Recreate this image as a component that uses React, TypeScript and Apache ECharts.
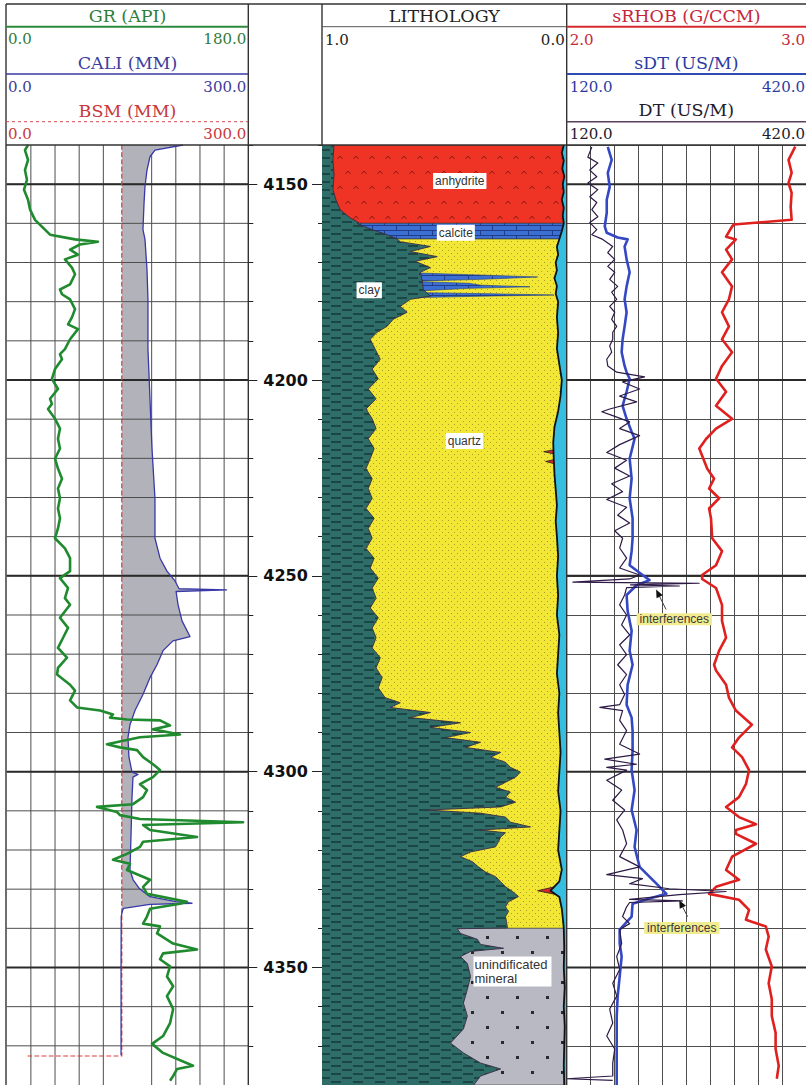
import React, { useEffect, useRef } from "react";
import * as echarts from "echarts";

// ---------- depth frame ----------
const TOP_DEPTH = 4140;
const BASE_DEPTH = 4380;
const DEPTH_STEP = 10;
const MAJOR_DEPTHS = [4150, 4200, 4250, 4300, 4350];

// ---------- header scales ----------
const GR_SCALE = [0, 180];
const CALI_SCALE = [0, 300];
const BSM_SCALE = [0, 300];
const LITH_SCALE = [1, 0];
const RHOB_SCALE = [2, 3];
const SDT_SCALE = [120, 420];
const DT_SCALE = [120, 420];
const GR_GRID = [18, 36, 54, 72, 108, 126, 144, 162];

// ---------- curves: [depth (m), value] ----------
const GR_LOG = [
  [4140.0, 15.9], [4141.3, 13.6], [4143.8, 15.9], [4146.4, 13.6], [4148.9, 15.1], [4151.4, 12.9], [4154.0, 15.9],
  [4156.5, 17.4], [4159.1, 21.1], [4161.6, 28.5], [4162.9, 32.3], [4164.1, 50.9], [4164.7, 68.0], [4165.4, 54.6],
  [4166.7, 47.2], [4168.0, 53.1], [4169.2, 43.4], [4171.3, 48.6], [4173.0, 50.9], [4175.6, 47.2], [4176.9, 39.7],
  [4178.1, 41.2], [4179.4, 47.2], [4181.9, 50.9], [4184.0, 48.6], [4185.8, 45.7], [4187.0, 53.1], [4189.6, 47.2],
  [4192.1, 43.4], [4193.4, 39.7], [4194.7, 41.2], [4197.2, 36.0], [4199.7, 33.7], [4202.3, 38.2], [4204.8, 32.3],
  [4206.1, 33.7], [4207.4, 30.8], [4209.9, 36.0], [4212.4, 39.7], [4215.0, 38.2], [4217.5, 39.7], [4220.1, 36.0],
  [4222.6, 38.2], [4225.2, 41.2], [4227.7, 38.2], [4230.2, 39.7], [4232.8, 38.2], [4235.3, 39.7], [4237.9, 38.2],
  [4240.4, 36.0], [4243.0, 43.4], [4245.5, 47.2], [4248.8, 47.2], [4250.6, 39.7], [4253.1, 45.7], [4255.7, 43.4],
  [4257.4, 47.2], [4260.7, 39.7], [4263.3, 45.7], [4265.8, 42.0], [4268.4, 38.2], [4270.9, 44.9], [4273.5, 38.2],
  [4275.2, 37.5], [4277.8, 47.2], [4279.3, 50.9], [4281.8, 47.2], [4283.6, 52.4], [4284.4, 69.5], [4285.4, 79.2],
  [4286.2, 77.0], [4286.7, 89.6], [4286.9, 114.2], [4288.2, 121.7], [4289.2, 109.0], [4290.5, 129.1], [4291.2, 99.3],
  [4293.0, 74.7], [4293.8, 84.4], [4294.5, 97.1], [4296.3, 101.6], [4298.1, 109.0], [4299.6, 114.2], [4301.4, 109.0],
  [4303.2, 99.3], [4304.7, 104.5], [4306.5, 101.6], [4308.3, 94.1], [4309.0, 67.3], [4310.3, 82.2], [4311.1, 84.4],
  [4312.1, 99.3], [4312.9, 176.1], [4313.6, 101.6], [4314.9, 106.8], [4316.7, 141.8], [4317.9, 101.6], [4319.2, 99.3],
  [4321.0, 89.6], [4322.5, 79.2], [4323.5, 91.9], [4325.1, 89.6], [4327.6, 106.8], [4329.4, 101.6], [4331.2, 104.5],
  [4333.2, 134.3], [4333.7, 129.1], [4335.0, 106.8], [4337.0, 104.5], [4338.8, 101.6], [4339.5, 114.2], [4341.3, 112.0],
  [4343.9, 124.0], [4345.4, 141.8], [4346.4, 116.5], [4347.9, 114.2], [4349.7, 121.7], [4352.3, 119.4], [4354.8, 124.0],
  [4357.3, 119.4], [4360.6, 124.0], [4364.2, 121.7], [4367.5, 116.5], [4369.5, 108.3], [4371.8, 116.5], [4375.1, 138.8],
  [4375.9, 127.0], [4377.7, 124.0], [4378.9, 121.7],
];

const CALI_LOG = [
  [4140.0, 218.9], [4141.3, 184.1], [4143.0, 177.9], [4146.4, 174.2], [4150.6, 171.7], [4155.0, 170.5], [4161.6, 169.2],
  [4164.1, 171.7], [4171.8, 174.2], [4179.4, 175.4], [4192.1, 175.4], [4204.8, 177.9], [4217.5, 180.4], [4230.2, 184.1],
  [4240.4, 184.1], [4245.5, 190.4], [4248.8, 199.0], [4251.3, 209.0], [4253.3, 214.0], [4253.6, 273.0], [4254.0, 210.3],
  [4257.4, 212.8], [4261.5, 217.7], [4265.5, 227.6], [4266.6, 206.5], [4269.1, 194.1], [4272.7, 186.6], [4276.0, 177.9],
  [4280.3, 169.2], [4284.4, 159.3], [4288.0, 153.1], [4291.3, 150.6], [4296.3, 151.8], [4300.1, 155.6], [4300.7, 163.0],
  [4301.4, 156.8], [4306.5, 155.6], [4316.7, 154.3], [4325.1, 153.1], [4327.6, 157.0], [4329.9, 165.0], [4331.9, 177.9],
  [4333.2, 210.0], [4333.6, 230.1], [4333.9, 177.9], [4334.9, 145.0], [4335.7, 143.5], [4337.0, 142.2], [4350.0, 142.0],
  [4372.4, 142.0],
];

const BSM_LOG = [[4140.0, 142.9], [4372.6, 142.9], [4372.6, 26.0]];

const RHOB_LOG = [
  [4140.4, 2.955], [4143.8, 2.927], [4147.1, 2.94], [4149.7, 2.927], [4152.2, 2.94], [4155.8, 2.936], [4159.1, 2.94],
  [4160.3, 2.699], [4160.8, 2.691], [4163.4, 2.666], [4164.1, 2.707], [4166.7, 2.666], [4169.2, 2.691], [4172.5, 2.649],
  [4176.1, 2.691], [4179.4, 2.678], [4182.7, 2.649], [4186.3, 2.678], [4189.6, 2.649], [4192.9, 2.691], [4196.4, 2.649],
  [4199.7, 2.624], [4203.0, 2.666], [4206.6, 2.624], [4209.9, 2.691], [4212.4, 2.624], [4215.0, 2.583], [4217.5, 2.554],
  [4222.6, 2.587], [4225.2, 2.616], [4227.7, 2.595], [4230.2, 2.637], [4232.8, 2.595], [4235.3, 2.603], [4240.4, 2.608],
  [4243.7, 2.649], [4247.3, 2.624], [4249.8, 2.566], [4250.8, 2.566], [4253.1, 2.624], [4257.4, 2.649], [4261.5, 2.649],
  [4265.8, 2.666], [4269.1, 2.637], [4272.7, 2.616], [4274.2, 2.624], [4277.8, 2.666], [4281.1, 2.678], [4284.4, 2.707],
  [4288.0, 2.774], [4291.3, 2.72], [4293.8, 2.691], [4296.3, 2.733], [4299.6, 2.762], [4303.2, 2.749], [4306.5, 2.72],
  [4309.0, 2.666], [4311.6, 2.72], [4313.4, 2.791], [4314.9, 2.707], [4315.9, 2.707], [4318.4, 2.791], [4321.7, 2.691],
  [4325.1, 2.666], [4327.6, 2.72], [4329.4, 2.624], [4331.2, 2.595], [4332.7, 2.72], [4335.3, 2.762], [4337.8, 2.749],
  [4339.5, 2.832], [4342.1, 2.844], [4345.4, 2.832], [4349.7, 2.857], [4354.0, 2.844], [4358.1, 2.857], [4362.4, 2.857],
  [4366.7, 2.873], [4370.8, 2.873], [4375.1, 2.886], [4378.4, 2.878],
];

const SDT_LOG = [
  [4140.5, 171.5], [4143.8, 176.4], [4147.1, 171.5], [4150.7, 173.9], [4154.0, 170.2], [4157.3, 170.2], [4160.8, 167.7],
  [4162.4, 170.2], [4163.6, 183.9], [4164.1, 196.4], [4165.9, 192.6], [4169.2, 195.1], [4172.5, 198.9], [4176.1, 195.1],
  [4179.4, 192.6], [4182.7, 195.1], [4186.3, 192.6], [4189.6, 190.1], [4192.9, 188.9], [4196.4, 192.6], [4198.0, 195.1],
  [4199.7, 198.9], [4203.0, 195.1], [4206.6, 190.1], [4209.9, 195.1], [4213.2, 201.4], [4215.0, 205.1], [4220.1, 198.9],
  [4225.2, 201.4], [4230.2, 198.9], [4235.3, 202.6], [4240.4, 202.6], [4243.7, 201.4], [4247.3, 198.9], [4249.8, 215.1],
  [4251.1, 223.8], [4252.4, 207.6], [4254.9, 195.1], [4259.0, 196.4], [4264.0, 201.4], [4269.1, 198.9], [4272.7, 202.6],
  [4277.8, 196.4], [4282.9, 195.1], [4286.2, 201.4], [4289.5, 202.6], [4294.6, 202.6], [4299.6, 201.4], [4304.7, 205.1],
  [4309.8, 201.4], [4314.9, 207.6], [4319.2, 205.1], [4324.3, 211.4], [4328.6, 232.5], [4331.2, 245.0], [4332.4, 223.8],
  [4333.7, 202.6], [4337.0, 201.4], [4340.3, 186.4], [4343.9, 186.4], [4347.2, 188.9], [4352.3, 186.4], [4357.3, 183.9],
  [4362.4, 182.7], [4367.5, 182.7], [4372.6, 182.7], [4377.7, 182.7], [4380.0, 182.7],
];

const DT_LOG = [
  [4140.5, 151.5], [4143.1, 146.5], [4144.6, 159.0], [4146.4, 149.0], [4148.1, 157.7], [4149.7, 146.5], [4151.4, 159.0],
  [4153.2, 149.0], [4154.7, 157.7], [4156.5, 151.5], [4158.3, 159.0], [4159.8, 149.0], [4161.6, 157.7], [4162.9, 151.5],
  [4164.1, 165.2], [4165.9, 177.7], [4167.5, 171.5], [4169.2, 180.2], [4171.0, 171.5], [4172.5, 180.2], [4174.3, 173.9],
  [4176.1, 183.9], [4177.6, 176.4], [4179.4, 182.7], [4181.2, 173.9], [4182.7, 180.2], [4184.5, 176.4], [4186.3, 182.7],
  [4187.8, 177.7], [4189.6, 177.7], [4191.3, 173.9], [4192.9, 176.4], [4194.7, 170.2], [4196.4, 171.5], [4198.0, 182.7],
  [4199.2, 217.6], [4200.5, 190.1], [4202.3, 211.4], [4204.1, 186.4], [4205.6, 207.6], [4207.4, 173.9], [4208.1, 164.0],
  [4209.1, 177.7], [4210.7, 198.9], [4212.4, 186.4], [4214.2, 211.4], [4216.5, 186.4], [4218.5, 170.2], [4220.5, 195.1],
  [4222.5, 180.2], [4224.5, 198.9], [4226.5, 176.4], [4228.5, 190.1], [4230.5, 170.2], [4232.5, 195.1], [4234.5, 183.9],
  [4236.5, 198.9], [4238.5, 180.2], [4240.4, 190.1], [4242.9, 186.4], [4245.5, 195.1], [4248.0, 186.4], [4249.8, 211.4],
  [4250.8, 198.9], [4251.6, 127.8], [4251.9, 286.0], [4252.3, 200.0], [4252.6, 261.2], [4253.0, 195.1], [4254.9, 192.6],
  [4257.4, 186.4], [4260.0, 195.1], [4262.5, 188.9], [4265.1, 198.9], [4267.6, 186.4], [4270.1, 195.1], [4272.7, 183.9],
  [4275.2, 195.1], [4277.8, 186.4], [4280.3, 192.6], [4282.9, 186.4], [4283.6, 161.5], [4284.4, 190.1], [4286.9, 186.4],
  [4289.5, 195.1], [4293.0, 186.4], [4295.5, 211.4], [4296.8, 167.7], [4298.1, 207.6], [4298.9, 170.2], [4299.6, 195.1],
  [4302.2, 170.2], [4304.7, 188.9], [4307.3, 177.7], [4309.8, 192.6], [4312.3, 182.7], [4314.9, 190.1], [4318.4, 195.1],
  [4321.7, 186.4], [4324.3, 211.4], [4326.3, 170.2], [4327.3, 215.1], [4328.6, 198.9], [4329.9, 248.7], [4330.6, 319.7],
  [4331.4, 261.2], [4332.6, 198.9], [4333.0, 265.0], [4333.4, 198.9], [4334.5, 195.1], [4337.0, 190.1], [4338.8, 198.9],
  [4340.3, 186.4], [4343.9, 188.9], [4347.2, 182.7], [4350.5, 186.4], [4354.0, 177.7], [4357.3, 182.7], [4360.6, 173.9],
  [4364.2, 177.7], [4367.5, 170.2], [4370.8, 180.2], [4374.4, 177.7], [4377.7, 177.7], [4378.4, 120.0], [4378.8, 177.7],
];

// ---------- lithology (volume fractions) ----------
const ZONE_NAMES = ["anhydrite", "calcite", "quartz", "unidentified"];
const ZONE_TOPS = [4140, 4160, 4164, 4340];
const ZONE_BASES = [4160, 4164, 4340, 4380];

// clay volume (fraction, from the left edge)
const CLAY_LOG = [
  [4140.0, 0.049], [4143.8, 0.045], [4147.6, 0.049], [4151.4, 0.045], [4154.0, 0.057], [4156.5, 0.074], [4158.6, 0.115],
  [4159.8, 0.15], [4160.0, 0.143], [4161.5, 0.2], [4163.0, 0.27], [4164.0, 0.307], [4164.7, 0.32], [4165.9, 0.443],
  [4167.2, 0.361], [4168.5, 0.471], [4169.7, 0.381], [4171.3, 0.443], [4172.5, 0.402], [4174.8, 0.41], [4176.9, 0.414],
  [4178.6, 0.443], [4179.4, 0.361], [4181.2, 0.32], [4182.7, 0.348], [4184.5, 0.291], [4186.3, 0.266], [4187.8, 0.225],
  [4189.6, 0.197], [4192.1, 0.217], [4194.7, 0.238], [4197.2, 0.205], [4199.7, 0.23], [4202.3, 0.189], [4204.8, 0.221],
  [4207.4, 0.18], [4209.9, 0.205], [4212.4, 0.221], [4215.0, 0.189], [4217.5, 0.213], [4220.1, 0.197], [4222.6, 0.18],
  [4225.2, 0.205], [4227.7, 0.189], [4230.2, 0.205], [4232.8, 0.18], [4235.3, 0.213], [4237.9, 0.189], [4240.4, 0.205],
  [4243.0, 0.18], [4245.5, 0.213], [4248.0, 0.197], [4250.6, 0.23], [4253.1, 0.205], [4255.7, 0.221], [4258.2, 0.197],
  [4260.7, 0.23], [4263.3, 0.205], [4265.8, 0.221], [4268.4, 0.205], [4270.9, 0.238], [4273.5, 0.221], [4276.0, 0.246],
  [4278.6, 0.23], [4281.1, 0.258], [4282.4, 0.32], [4283.6, 0.279], [4284.9, 0.443], [4286.2, 0.361], [4287.5, 0.566],
  [4288.7, 0.443], [4290.0, 0.607], [4291.3, 0.504], [4292.5, 0.648], [4293.8, 0.586], [4295.1, 0.73], [4296.3, 0.689],
  [4297.6, 0.75], [4298.9, 0.77], [4300.1, 0.811], [4301.4, 0.791], [4302.7, 0.75], [4304.0, 0.709], [4305.2, 0.77],
  [4306.5, 0.75], [4307.8, 0.791], [4309.0, 0.73], [4309.8, 0.43], [4310.6, 0.648], [4311.6, 0.75], [4312.9, 0.77],
  [4314.1, 0.852], [4314.9, 0.648], [4315.6, 0.75], [4316.7, 0.73], [4317.9, 0.721], [4319.2, 0.709], [4320.5, 0.607],
  [4321.7, 0.566], [4323.0, 0.615], [4324.3, 0.639], [4325.6, 0.668], [4326.8, 0.709], [4328.1, 0.73], [4329.4, 0.75],
  [4330.6, 0.779], [4331.9, 0.803], [4333.2, 0.762], [4334.5, 0.75], [4335.7, 0.762], [4337.0, 0.75], [4338.3, 0.754],
  [4339.9, 0.758], [4340.1, 0.553], [4341.3, 0.566], [4342.8, 0.635], [4344.1, 0.648], [4345.1, 0.742], [4345.9, 0.607],
  [4347.2, 0.566], [4349.0, 0.594], [4352.3, 0.607], [4355.6, 0.594], [4359.1, 0.578], [4362.4, 0.594], [4365.7, 0.578],
  [4369.3, 0.525], [4371.8, 0.578], [4374.4, 0.648], [4375.9, 0.73], [4377.7, 0.648], [4380.0, 0.62],
];

// pore volume (fraction, from the right edge)
const PORE_LOG = [
  [4140, 0.012], [4142, 0.02], [4144, 0.012], [4146, 0.018], [4148, 0.01], [4150, 0.016], [4152, 0.012], [4154, 0.02],
  [4156, 0.012], [4158, 0.016], [4160, 0.012], [4162, 0.02], [4164, 0.03], [4166, 0.04], [4168, 0.035], [4170, 0.045],
  [4172, 0.04], [4174, 0.05], [4176, 0.04], [4178, 0.045], [4180, 0.035], [4184, 0.04], [4188, 0.035], [4192, 0.04],
  [4196, 0.03], [4200, 0.02], [4204, 0.025], [4208, 0.035], [4212, 0.05], [4216, 0.055], [4220, 0.053], [4224, 0.05],
  [4228, 0.045], [4232, 0.04], [4236, 0.045], [4240, 0.04], [4245, 0.035], [4250, 0.04], [4255, 0.035], [4260, 0.04],
  [4265, 0.03], [4270, 0.035], [4275, 0.04], [4280, 0.03], [4285, 0.035], [4290, 0.03], [4295, 0.025], [4300, 0.03],
  [4305, 0.035], [4310, 0.025], [4315, 0.03], [4320, 0.035], [4325, 0.02], [4328, 0.03], [4330.4, 0.066], [4332, 0.03],
  [4335, 0.02], [4338, 0.015], [4340, 0.012], [4345, 0.01], [4350, 0.012], [4355, 0.008], [4360, 0.012], [4365, 0.008],
  [4370, 0.01], [4375, 0.012], [4380, 0.01],
];

// calcite streaks inside the quartz: [axis value where blue ends, depth]
const CALCITE_STREAKS = [
  [[0.598, 4172.7], [0.4, 4173.1], [0.119, 4173.7], [0.35, 4174.3], [0.598, 4174.7]],
  [[0.59, 4174.9], [0.4, 4175.3], [0.35, 4175.8], [0.15, 4176.2], [0.4, 4176.6], [0.586, 4177.2]],
  [[0.586, 4177.7], [0.3, 4178.0], [0.053, 4178.3], [0.35, 4178.6], [0.557, 4178.9]],
];

// red patches next to the pore space: [axis value of left edge, depth]
const RED_PATCHES = [
  [[0.05, 4217.8], [0.094, 4218.3], [0.05, 4218.9]],
  [[0.05, 4220.3], [0.086, 4220.8], [0.05, 4221.4]],
  [[0.05, 4329.4], [0.119, 4330.4], [0.05, 4331.3]],
];

const LITH_LABELS = [
  ["anhydrite", 0.437, 4149.2, "center"],
  ["calcite", 0.453, 4162.4, "center"],
  ["clay", 0.807, 4177.1, "center"],
  ["quartz", 0.418, 4215.6, "center"],
  ["unindificated\nmineral", 0.381, 4351.0, "left"],
];

const NOTE_LABELS = [
  ["interferences", 254.9, 4261.1],
  ["interferences", 264.3, 4339.9],
];
// [tail value, tail depth, tip value, tip depth] on the sDT scale
const NOTE_ARROWS = [
  [244.6, 4258.6, 232.1, 4253.5],
  [271.5, 4337.0, 261.1, 4332.8],
];

// ---------- layout ----------
const W = 806;
const H = 1085;
const FRAME_TOP = 4;
const FRAME_LEFT = 6;
const BODY_TOP = 145;
const PX_PER_M = 3.934;
const BODY_H = (BASE_DEPTH - TOP_DEPTH) * PX_PER_M;
const T1 = [6.7, 248.3];
const TD = [248.3, 322];
const TL = [322, 566.7];
const T4 = [566.7, 807.5];

const SERIF = '"DejaVu Serif", "Liberation Serif", serif';
const SANS = '"Liberation Sans", Arial, sans-serif';

function makePattern(w: number, h: number, draw: (c: CanvasRenderingContext2D) => void) {
  const cv = document.createElement("canvas");
  cv.width = w;
  cv.height = h;
  const ctx = cv.getContext("2d") as CanvasRenderingContext2D;
  draw(ctx);
  return { image: cv, repeat: "repeat", imageWidth: w, imageHeight: h };
}

function buildPatterns() {
  const clay = makePattern(22, 8, (c) => {
    c.fillStyle = "#2f6d69";
    c.fillRect(0, 0, 22, 8);
    c.strokeStyle = "#163a3b";
    c.lineWidth = 1.3;
    c.beginPath();
    c.moveTo(1, 2); c.lineTo(11, 2);
    c.moveTo(12, 6); c.lineTo(22, 6);
    c.stroke();
  });
  const quartz = makePattern(6, 6, (c) => {
    c.fillStyle = "#f1e734";
    c.fillRect(0, 0, 6, 6);
    c.fillStyle = "#ab9d2a";
    c.fillRect(1, 1, 1, 1);
    c.fillRect(4, 4, 1, 1);
  });
  const anhydrite = makePattern(16, 30, (c) => {
    c.fillStyle = "#ef3324";
    c.fillRect(0, 0, 16, 30);
    c.strokeStyle = "#8e1c12";
    c.lineWidth = 1;
    const caret = (x: number, y: number) => {
      c.beginPath();
      c.moveTo(x - 2.5, y + 2);
      c.lineTo(x, y - 1);
      c.lineTo(x + 2.5, y + 2);
      c.stroke();
    };
    caret(4, 7);
    caret(12, 22);
  });
  const calcite = makePattern(24, 10, (c) => {
    c.fillStyle = "#3b6fd2";
    c.fillRect(0, 0, 24, 10);
    c.strokeStyle = "#1f3d8c";
    c.lineWidth = 1;
    c.beginPath();
    c.moveTo(0, 0.5); c.lineTo(24, 0.5);
    c.moveTo(0, 5.5); c.lineTo(24, 5.5);
    c.moveTo(0.5, 0.5); c.lineTo(0.5, 5.5);
    c.moveTo(12.5, 5.5); c.lineTo(12.5, 10);
    c.stroke();
  });
  const unidentified = makePattern(30, 30, (c) => {
    c.fillStyle = "#b9b9c4";
    c.fillRect(0, 0, 30, 30);
    c.fillStyle = "#2a2a2e";
    c.fillRect(6, 6, 3, 3);
    c.fillRect(21, 21, 3, 3);
  });
  return { clay, quartz, anhydrite, calcite, unidentified } as Record<string, any>;
}

function curve(log: number[][], xIdx: number, yIdx: number, color: string, width: number, z: number, type = "solid") {
  return {
    type: "line",
    xAxisIndex: xIdx,
    yAxisIndex: yIdx,
    data: log.map(([d, v]) => [v, d]),
    showSymbol: false,
    symbol: "none",
    silent: true,
    clip: true,
    z,
    lineStyle: { color, width, type, join: "round" },
  };
}

function shapes(xIdx: number, yIdx: number, anchorX: number, z: number, build: (api: any) => any) {
  return {
    type: "custom",
    xAxisIndex: xIdx,
    yAxisIndex: yIdx,
    silent: true,
    clip: true,
    z,
    data: [[anchorX, TOP_DEPTH + 1]],
    encode: { x: 0, y: 1 },
    renderItem: (_p: any, api: any) => build(api),
  };
}

function buildOption() {
  const P = buildPatterns();
  const depthAxis = { type: "value", min: TOP_DEPTH, max: BASE_DEPTH, inverse: true };
  const gridLine = { color: "#4d4d4d", width: 1 };
  const hidden = { axisLine: { show: false }, axisTick: { show: false }, axisLabel: { show: false } };

  const fmt = (v: number) => v.toFixed(1);
  const text = (t: string, x: number, y: number, color: string, align = "center", size = 15) => ({
    type: "text", x, y, silent: true, z: 30,
    style: { text: t, fill: color, font: `${size}px ${SERIF}`, textAlign: align, textVerticalAlign: "middle" },
  });
  const title = (t: string, x: number, y: number, color: string) => text(t, x, y, color, "center", 17.5);
  const hl = (x1: number, x2: number, y: number, color: string, width = 1, dash?: number[]) => ({
    type: "line", silent: true, z: 30,
    shape: { x1, y1: y, x2, y2: y },
    style: { stroke: color, lineWidth: width, lineDash: dash },
  });
  const vl = (x: number, y1: number, y2: number, color = "#333", width = 1.4) => ({
    type: "line", silent: true, z: 30,
    shape: { x1: x, y1, x2: x, y2 },
    style: { stroke: color, lineWidth: width },
  });

  const c1 = (T1[0] + T1[1]) / 2;
  const cl = (TL[0] + TL[1]) / 2;
  const c4 = (T4[0] + 806) / 2;
  const graphic = [
    hl(FRAME_LEFT, W, FRAME_TOP, "#333", 1.5),
    hl(FRAME_LEFT, W, BODY_TOP, "#333", 1.5),
    vl(FRAME_LEFT, FRAME_TOP, H),
    vl(T1[1], FRAME_TOP, H),
    vl(TD[1], FRAME_TOP, BODY_TOP),
    vl(TL[1], FRAME_TOP, H),
    // track 1 header
    title("GR (API)", c1, 15.5, "#2f7d3b"),
    hl(FRAME_LEFT, T1[1], 26.7, "#2c8a3c", 2),
    text(fmt(GR_SCALE[0]), 8, 38.5, "#2f7d3b", "left"),
    text(fmt(GR_SCALE[1]), T1[1] - 2, 38.5, "#2f7d3b", "right"),
    title("CALI (MM)", c1, 63, "#3d3d9c"),
    hl(FRAME_LEFT, T1[1], 74, "#3a3aa6", 1.5),
    text(fmt(CALI_SCALE[0]), 8, 87, "#3d3d9c", "left"),
    text(fmt(CALI_SCALE[1]), T1[1] - 2, 87, "#3d3d9c", "right"),
    title("BSM (MM)", c1, 110.5, "#c8383c"),
    hl(FRAME_LEFT, T1[1], 121.7, "#d8484c", 1, [3, 3]),
    text(fmt(BSM_SCALE[0]), 8, 133.5, "#c8383c", "left"),
    text(fmt(BSM_SCALE[1]), T1[1] - 2, 133.5, "#c8383c", "right"),
    // lithology header
    title("LITHOLOGY", cl, 15.5, "#222"),
    hl(TL[0], TL[1], 26.7, "#555", 1),
    text(fmt(LITH_SCALE[0]), TL[0] + 3, 40, "#222", "left"),
    text(fmt(LITH_SCALE[1]), TL[1] - 2, 40, "#222", "right"),
    // track 4 header
    title("sRHOB (G/CCM)", c4, 15.5, "#c4283a"),
    hl(T4[0], W, 26.7, "#d42a30", 2),
    text(fmt(RHOB_SCALE[0]), T4[0] + 3, 40, "#c4283a", "left"),
    text(fmt(RHOB_SCALE[1]), W - 1, 40, "#c4283a", "right"),
    title("sDT (US/M)", c4, 63, "#2b3ba2"),
    hl(T4[0], W, 74, "#2f4bb4", 2),
    text(fmt(SDT_SCALE[0]), T4[0] + 3, 87, "#2b3ba2", "left"),
    text(fmt(SDT_SCALE[1]), W - 1, 87, "#2b3ba2", "right"),
    title("DT (US/M)", c4, 109.5, "#221a2e"),
    hl(T4[0], W, 121.7, "#5a3f5f", 1.5),
    text(fmt(DT_SCALE[0]), T4[0] + 3, 134, "#221a2e", "left"),
    text(fmt(DT_SCALE[1]), W - 1, 134, "#221a2e", "right"),
  ];

  const hLines = (xMin: number, xMax: number, depths: number[], width: number, color: string) => (api: any) => ({
    type: "group",
    children: depths.map((d) => {
      const a = api.coord([xMin, d]);
      const b = api.coord([xMax, d]);
      return { type: "line", shape: { x1: a[0], y1: a[1], x2: b[0], y2: b[1] }, style: { stroke: color, lineWidth: width } };
    }),
  });
  const minorDepths: number[] = [];
  for (let d = TOP_DEPTH + DEPTH_STEP; d < BASE_DEPTH; d += DEPTH_STEP) minorDepths.push(d);

  const series: any[] = [
    // ----- track 1 -----
    shapes(0, 0, 0, 1, (api) => ({
      type: "group",
      children: GR_GRID.map((v) => {
        const a = api.coord([v, TOP_DEPTH]);
        const b = api.coord([v, BASE_DEPTH]);
        return { type: "line", shape: { x1: a[0], y1: a[1], x2: b[0], y2: b[1] }, style: { stroke: "#4d4d4d", lineWidth: 1 } };
      }),
    })),
    shapes(1, 0, 0, 2, (api) => {
      const bit = BSM_LOG[0][1];
      const pts: number[][] = CALI_LOG.map(([d, v]) => api.coord([Math.max(v, bit), d]));
      for (let i = CALI_LOG.length - 1; i >= 0; i--) pts.push(api.coord([bit, CALI_LOG[i][0]]));
      return { type: "polygon", shape: { points: pts }, style: { fill: "#b2b2ba" } };
    }),
    shapes(0, 0, 0, 3, hLines(GR_SCALE[0], GR_SCALE[1], minorDepths, 1, "#4d4d4d")),
    shapes(0, 0, 0, 3, hLines(GR_SCALE[0], GR_SCALE[1], MAJOR_DEPTHS, 2, "#2a2a2a")),
    curve(BSM_LOG, 1, 0, "#e03a3a", 1.2, 4, "dashed"),
    curve(CALI_LOG, 1, 0, "#3838a8", 1.3, 5),
    curve(GR_LOG, 0, 0, "#1f8a2e", 2.6, 6),

    // ----- lithology -----
    shapes(3, 5, 0.5, 1, (api) => ({
      type: "group",
      children: ZONE_NAMES.map((name, i) => ({
        type: "polygon",
        shape: {
          points: [
            api.coord([1, ZONE_TOPS[i]]), api.coord([0, ZONE_TOPS[i]]),
            api.coord([0, ZONE_BASES[i]]), api.coord([1, ZONE_BASES[i]]),
          ],
        },
        style: { fill: P[name], stroke: "#333", lineWidth: 0.6 },
      })),
    })),
    shapes(3, 5, 0.5, 2, (api) => ({
      type: "group",
      children: CALCITE_STREAKS.map((s) => {
        const pts = [api.coord([1, s[0][1]]), ...s.map(([e, d]) => api.coord([e, d])), api.coord([1, s[s.length - 1][1]])];
        return { type: "polygon", shape: { points: pts }, style: { fill: P.calcite, stroke: "#1f3d8c", lineWidth: 0.6 } };
      }),
    })),
    shapes(3, 5, 0.5, 3, (api) => ({
      type: "group",
      children: RED_PATCHES.map((s) => {
        const pts = [api.coord([0, s[0][1]]), ...s.map(([e, d]) => api.coord([e, d])), api.coord([0, s[s.length - 1][1]])];
        return { type: "polygon", shape: { points: pts }, style: { fill: "#d8262a", stroke: "#222", lineWidth: 0.8 } };
      }),
    })),
    shapes(3, 5, 0.5, 4, (api) => {
      const pts: number[][] = PORE_LOG.map(([d, p]) => api.coord([p, d]));
      pts.push(api.coord([0, PORE_LOG[PORE_LOG.length - 1][0]]));
      pts.push(api.coord([0, PORE_LOG[0][0]]));
      return { type: "polygon", shape: { points: pts }, style: { fill: "#35bedf" } };
    }),
    shapes(3, 5, 0.5, 5, (api) => {
      const pts: number[][] = CLAY_LOG.map(([d, f]) => api.coord([1 - f, d]));
      pts.push(api.coord([1, CLAY_LOG[CLAY_LOG.length - 1][0]]));
      pts.push(api.coord([1, CLAY_LOG[0][0]]));
      return { type: "polygon", shape: { points: pts }, style: { fill: P.clay } };
    }),
    curve(PORE_LOG, 3, 5, "#111", 1.8, 6),
    curve(CLAY_LOG.map(([d, f]) => [d, 1 - f]), 3, 5, "#3b2a45", 0.9, 6),
    shapes(3, 5, 0.5, 8, (api) => ({
      type: "group",
      children: LITH_LABELS.map(([t, x, d, align]) => {
        const p = api.coord([x as number, d as number]);
        return {
          type: "text", x: p[0], y: p[1],
          style: {
            text: t, fill: "#333", font: `${align === "left" ? 13 : 12}px ${SANS}`,
            textAlign: align, textVerticalAlign: "middle", lineHeight: 14,
            backgroundColor: "#ffffff", padding: align === "left" ? [1, 4, 1, 1] : [1, 2],
          },
        };
      }),
    })),

    // ----- track 4 -----
    shapes(4, 6, 2.5, 2, hLines(RHOB_SCALE[0], RHOB_SCALE[1], MAJOR_DEPTHS, 2, "#2a2a2a")),
    curve(RHOB_LOG, 4, 6, "#e0201e", 2.6, 4),
    curve(SDT_LOG, 5, 6, "#3448c4", 2.6, 5),
    curve(DT_LOG, 5, 6, "#2d1a45", 1.2, 6),
    shapes(5, 6, 200, 8, (api) => ({
      type: "group",
      children: NOTE_ARROWS.flatMap(([v0, d0, v1, d1]) => {
        const a = api.coord([v0, d0]);
        const b = api.coord([v1, d1]);
        const dx = b[0] - a[0];
        const dy = b[1] - a[1];
        const len = Math.hypot(dx, dy) || 1;
        const ux = dx / len;
        const uy = dy / len;
        const hx = b[0] - ux * 8;
        const hy = b[1] - uy * 8;
        return [
          { type: "line", shape: { x1: a[0], y1: a[1], x2: hx, y2: hy }, style: { stroke: "#444", lineWidth: 1 } },
          {
            type: "polygon",
            shape: { points: [b, [hx - uy * 3.5, hy + ux * 3.5], [hx + uy * 3.5, hy - ux * 3.5]] },
            style: { fill: "#111" },
          },
        ];
      }),
    })),
    shapes(5, 6, 200, 9, (api) => ({
      type: "group",
      children: NOTE_LABELS.map(([t, v, d]) => {
        const p = api.coord([v as number, d as number]);
        return {
          type: "text", x: p[0], y: p[1],
          style: {
            text: t, fill: "#3a3a3a", font: `12px ${SANS}`,
            textAlign: "center", textVerticalAlign: "middle",
            backgroundColor: "#f2ec90", padding: [0, 3],
          },
        };
      }),
    })),
  ];

  return {
    animation: false,
    backgroundColor: "#ffffff",
    graphic,
    grid: [
      { left: T1[0], top: BODY_TOP, width: T1[1] - T1[0], height: BODY_H },
      { left: TD[0], top: BODY_TOP, width: TD[1] - TD[0], height: BODY_H },
      { left: TL[0], top: BODY_TOP, width: TL[1] - TL[0], height: BODY_H },
      { left: T4[0], top: BODY_TOP, width: T4[1] - T4[0], height: BODY_H },
    ],
    xAxis: [
      { gridIndex: 0, type: "value", min: GR_SCALE[0], max: GR_SCALE[1], ...hidden, splitLine: { show: false } },
      { gridIndex: 0, type: "value", min: CALI_SCALE[0], max: CALI_SCALE[1], show: false },
      { gridIndex: 1, type: "value", min: 0, max: 1, show: false },
      { gridIndex: 2, type: "value", min: LITH_SCALE[1], max: LITH_SCALE[0], inverse: true, show: false },
      {
        gridIndex: 3, type: "value", min: RHOB_SCALE[0], max: RHOB_SCALE[1], interval: 0.1, ...hidden,
        splitLine: { show: true, lineStyle: gridLine },
      },
      { gridIndex: 3, type: "value", min: SDT_SCALE[0], max: SDT_SCALE[1], show: false },
    ],
    yAxis: [
      { ...depthAxis, gridIndex: 0, show: false },
      {
        ...depthAxis, gridIndex: 1, position: "left", interval: DEPTH_STEP,
        axisLine: { show: true, lineStyle: { color: "#222", width: 1 } },
        axisTick: { show: true, inside: true, length: 5, lineStyle: { color: "#222", width: 1 } },
        axisLabel: {
          show: true, inside: true, margin: 15, customValues: MAJOR_DEPTHS,
          formatter: (v: number) => String(v),
          fontFamily: "DejaVu Sans", fontWeight: "bold", fontSize: 16, color: "#111", align: "left",
        },
        splitLine: { show: false },
      },
      {
        ...depthAxis, gridIndex: 1, position: "right", interval: DEPTH_STEP,
        axisLine: { show: true, lineStyle: { color: "#222", width: 1 } },
        axisTick: { show: true, inside: true, length: 4, lineStyle: { color: "#222", width: 1 } },
        axisLabel: { show: false },
        splitLine: { show: false },
      },
      {
        ...depthAxis, gridIndex: 1, position: "left",
        axisLine: { show: false },
        axisTick: { show: true, inside: true, length: 9, customValues: MAJOR_DEPTHS, lineStyle: { color: "#222", width: 1 } },
        axisLabel: { show: false },
        splitLine: { show: false },
      },
      {
        ...depthAxis, gridIndex: 1, position: "right",
        axisLine: { show: false },
        axisTick: { show: true, inside: true, length: 10, customValues: MAJOR_DEPTHS, lineStyle: { color: "#222", width: 1 } },
        axisLabel: { show: false },
        splitLine: { show: false },
      },
      { ...depthAxis, gridIndex: 2, show: false },
      { ...depthAxis, gridIndex: 3, interval: DEPTH_STEP, ...hidden, splitLine: { show: true, lineStyle: gridLine } },
    ],
    series,
  };
}

export default function App() {
  const ref = useRef<HTMLDivElement>(null);
  useEffect(() => {
    if (!ref.current) return;
    const chart = echarts.init(ref.current, undefined, { renderer: "svg" });
    chart.setOption(buildOption() as any);
    return () => chart.dispose();
  }, []);
  return (
    <div
      ref={ref}
      style={{ position: "absolute", left: 0, top: 0, width: W, height: H, background: "#fff" }}
    />
  );
}
